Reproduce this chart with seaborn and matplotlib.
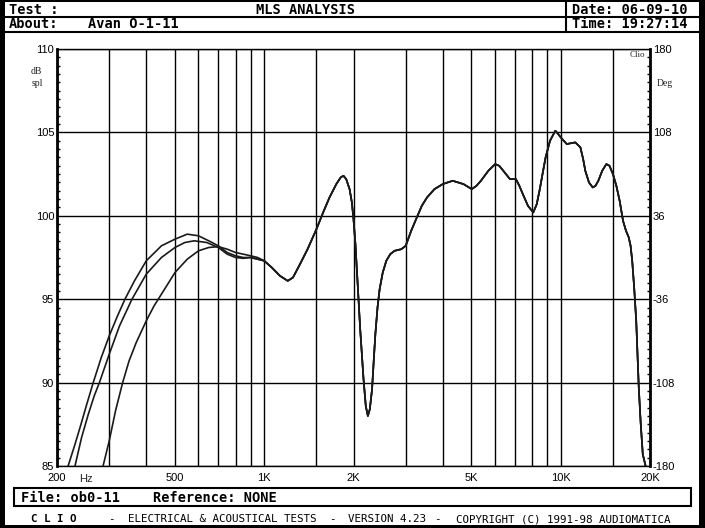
import matplotlib
matplotlib.use('Agg')
import matplotlib.pyplot as plt
from matplotlib.lines import Line2D
from matplotlib.patches import Rectangle
from matplotlib.ticker import FixedLocator, NullFormatter, MultipleLocator
import matplotlib.transforms as mtransforms
import seaborn as sns
import pandas as pd

# ---------------- data ----------------
low_a_freq = [218, 230, 240, 252, 265, 282, 300, 320, 339, 365, 400, 450, 500, 550,
              600, 650, 700, 750, 800, 850, 900, 950]
low_a_db = [85.0, 86.3, 87.4, 88.7, 90.0, 91.5, 92.8, 94.0, 95.0, 96.1, 97.3, 98.2, 98.6, 98.9,
            98.8, 98.5, 98.2, 97.8, 97.6, 97.5, 97.5, 97.4]

low_b_freq = [230, 242, 255, 267, 278, 300, 325, 358, 400, 450, 500, 540, 580, 640,
              700, 750, 800, 850, 900, 950]
low_b_db = [85.0, 86.7, 88.1, 89.2, 90.0, 91.7, 93.4, 95.0, 96.5, 97.5, 98.1, 98.4, 98.5, 98.4,
            98.1, 97.7, 97.5, 97.45, 97.5, 97.4]

low_c_freq = [286, 300, 315, 333, 350, 370, 400, 425, 450, 500, 550, 600, 650, 700,
              750, 800, 850, 900, 950]
low_c_db = [85.0, 86.5, 88.3, 90.0, 91.3, 92.4, 93.7, 94.6, 95.3, 96.6, 97.4, 97.9, 98.1, 98.15,
            98.0, 97.8, 97.7, 97.6, 97.5]

shared_freq = [1000, 1060, 1130, 1200, 1250, 1320, 1400, 1500, 1580, 1660, 1750, 1810,
               1850, 1890, 1940, 1975, 2000, 2030, 2060, 2105, 2160, 2200, 2236, 2270,
               2310, 2340, 2370, 2410, 2450, 2510, 2580, 2660, 2750, 2900, 3000, 3130,
               3270, 3400, 3540, 3750, 4000, 4320, 4700, 5010, 5200, 5380, 5700, 6010,
               6200, 6400, 6740, 7060, 7250, 7450, 7750, 8080, 8300, 8500, 8700, 8890,
               9200, 9590, 9800, 10000, 10480, 10800, 11200, 11650, 11900, 12100, 12450,
               12820, 13100, 13390, 13800, 14250, 14600, 15000, 15400, 15800, 16220,
               16600, 16960, 17200, 17420, 17700, 17970, 18330, 18600, 18910, 19390]
shared_db = [97.3, 96.9, 96.4, 96.1, 96.3, 97.1, 98.0, 99.2, 100.2, 101.1, 101.9, 102.3,
             102.4, 102.2, 101.6, 100.8, 99.8, 98.3, 96.3, 93.3, 90.3, 88.6, 88.0, 88.4,
             89.6, 91.3, 92.9, 94.5, 95.6, 96.6, 97.3, 97.7, 97.9, 98.0, 98.2, 99.1,
             99.9, 100.6, 101.1, 101.6, 101.9, 102.1, 101.9, 101.6, 101.8, 102.1, 102.7, 103.1,
             103.0, 102.7, 102.2, 102.2, 101.8, 101.3, 100.6, 100.2, 100.7, 101.6, 102.6, 103.5,
             104.5, 105.1, 104.9, 104.7, 104.3, 104.35, 104.4, 104.1, 103.4, 102.7, 102.0,
             101.7, 101.8, 102.1, 102.7, 103.1, 103.0, 102.5, 101.8, 100.9, 99.7,
             99.1, 98.7, 98.2, 97.3, 95.6, 93.7, 89.7, 87.6, 85.7, 84.9]

grid_major = [200, 500, 1000, 2000, 5000, 10000, 20000]
grid_major_labels = ['200', '500', '1K', '2K', '5K', '10K', '20K']
grid_minor = [300, 400, 600, 700, 800, 900, 1500, 3000, 4000, 6000, 7000, 8000, 9000, 15000]
y_ticks = [85, 90, 95, 100, 105, 110]
deg_labels = ['-180', '-108', '-36', '36', '108', '180']

rows = []
for name, lf, ld in [('A', low_a_freq, low_a_db), ('B', low_b_freq, low_b_db), ('C', low_c_freq, low_c_db)]:
    for f, d in zip(lf + shared_freq, ld + shared_db):
        rows.append({'curve': name, 'freq': f, 'db': d})
df = pd.DataFrame(rows)

# ---------------- figure ----------------
sns.set_theme(style='white')
plt.rcParams['font.family'] = ['DejaVu Sans']

W, H = 705, 528
fig = plt.figure(figsize=(7.05, 5.28), dpi=100, facecolor='white')

def fx(x):
    return x / W

def fy(y):
    return 1 - y / H

def hline(y, x0, x1, lw=1.5):
    fig.add_artist(Line2D([fx(x0), fx(x1)], [fy(y), fy(y)], color='black', lw=lw,
                          transform=fig.transFigure))

def vline(x, y0, y1, lw=1.5):
    fig.add_artist(Line2D([fx(x), fx(x)], [fy(y0), fy(y1)], color='black', lw=lw,
                          transform=fig.transFigure))

# outer black frame
fig.add_artist(Rectangle((0, 0), fx(5), 1, transform=fig.transFigure, color='black', lw=0))
fig.add_artist(Rectangle((fx(699), 0), fx(6), 1, transform=fig.transFigure, color='black', lw=0))
fig.add_artist(Rectangle((0, fy(2)), 1, 2 / H, transform=fig.transFigure, color='black', lw=0))
fig.add_artist(Rectangle((0, 0), 1, 3 / H, transform=fig.transFigure, color='black', lw=0))

# header boxes
hline(17, 3, 702)
hline(32, 3, 702)
vline(566, 2, 32)

mono = dict(family='DejaVu Sans Mono', fontweight='bold', fontsize=9.8, color='black')
fig.text(fx(9), fy(10), 'Test :', ha='left', va='center', **mono)
fig.text(fx(305), fy(10), 'MLS ANALYSIS', ha='center', va='center', **mono)
fig.text(fx(9), fy(24.5), 'About:', ha='left', va='center', **mono)
fig.text(fx(88), fy(24.5), 'Avan O-1-11', ha='left', va='center', **mono)
fig.text(fx(572), fy(10), 'Date: 06-09-10', ha='left', va='center', **mono)
fig.text(fx(572), fy(24.5), 'Time: 19:27:14', ha='left', va='center', **mono)

# footer
fig.add_artist(Rectangle((fx(14), fy(506)), fx(677), (506 - 488) / H, transform=fig.transFigure,
                         fill=False, edgecolor='black', lw=1.5))
fig.text(fx(21), fy(497.5), 'File: ob0-11', ha='left', va='center', **mono)
fig.text(fx(153), fy(497.5), 'Reference: NONE', ha='left', va='center', **mono)

foot = dict(family='DejaVu Sans Mono', fontsize=7.8, color='black', va='center', ha='left')
fig.text(fx(31), fy(519), 'C L I O', fontweight='bold', **foot)
fig.text(fx(108), fy(519), '-', **foot)
fig.text(fx(128), fy(519), 'ELECTRICAL & ACOUSTICAL TESTS', **foot)
fig.text(fx(329), fy(519), '-', **foot)
fig.text(fx(348), fy(519), 'VERSION 4.23', **foot)
fig.text(fx(434), fy(519), '-', **foot)
fig.text(fx(456), fy(519), 'COPYRIGHT (C) 1991-98 AUDIOMATICA', **foot)

# ---------------- axes ----------------
ax = fig.add_axes([fx(57), fy(466), (650 - 57) / W, (466 - 49) / H])
ax.set_facecolor('white')
sns.lineplot(data=df, x='freq', y='db', hue='curve', palette=['#1a1a1a'] * 3,
             legend=False, ax=ax, lw=1.2, sort=False, estimator=None)
ax.set_xscale('log')
ax.set_xlim(200, 20000)
ax.set_ylim(85, 110)
ax.set_xlabel('')
ax.set_ylabel('')

ax.xaxis.set_major_locator(FixedLocator(grid_major))
ax.set_xticklabels(grid_major_labels)
ax.xaxis.set_minor_locator(FixedLocator(grid_minor))
ax.xaxis.set_minor_formatter(NullFormatter())
ax.set_yticks(y_ticks)
ax.yaxis.set_minor_locator(MultipleLocator(0.5))
ax.grid(True, which='major', axis='both', color='black', lw=1.0)
ax.grid(True, which='minor', axis='x', color='black', lw=1.0)
ax.set_axisbelow(True)

ax.tick_params(axis='x', which='both', length=0, pad=5, labelsize=8, colors='black')
ax.tick_params(axis='y', which='major', length=0, pad=2, labelsize=8, colors='black')
ax.tick_params(axis='y', which='minor', direction='in', length=2.5, width=1, color='black')
for lab in ax.get_xticklabels() + ax.get_yticklabels():
    lab.set_fontfamily('Liberation Sans')

for side, spine in ax.spines.items():
    spine.set_color('black')
    spine.set_linewidth(1.0)
ax.spines['left'].set_linewidth(2.0)
ax.spines['right'].set_linewidth(2.0)

ax2 = ax.twinx()
ax2.set_ylim(85, 110)
ax2.set_yticks(y_ticks)
ax2.set_yticklabels(deg_labels)
ax2.yaxis.set_minor_locator(MultipleLocator(0.5))
ax2.tick_params(axis='y', which='major', length=0, pad=2, labelsize=8, colors='black')
ax2.tick_params(axis='y', which='minor', direction='in', length=2.5, width=1, color='black')
for lab in ax2.get_yticklabels():
    lab.set_fontfamily('Liberation Sans')
ax2.grid(False)
for spine in ax2.spines.values():
    spine.set_visible(False)

# axis annotations
trans = mtransforms.blended_transform_factory(ax.transData, ax.transAxes)
ax.text(250, -0.018, 'Hz', transform=trans, ha='center', va='top', fontsize=8,
        family='Liberation Sans')
fig.text(fx(36), fy(72), 'dB', ha='center', va='center', fontsize=7, family='Liberation Serif')
fig.text(fx(37), fy(83), 'spl', ha='center', va='center', fontsize=7, family='Liberation Serif')
fig.text(fx(665), fy(83), 'Deg', ha='center', va='center', fontsize=7, family='Liberation Serif')
fig.text(fx(637), fy(55), 'Clio', ha='center', va='center', fontsize=6.5, family='Liberation Serif')

fig.savefig('out.png', dpi=100, facecolor='white')
